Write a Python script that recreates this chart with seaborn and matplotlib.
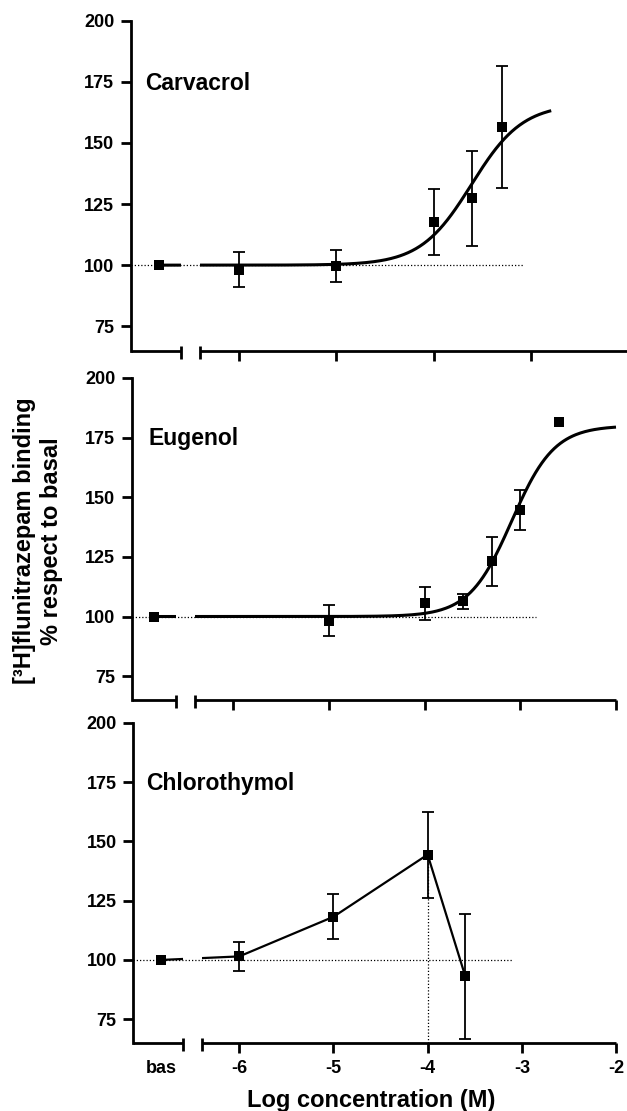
import numpy as np
import matplotlib
matplotlib.use("Agg")
import matplotlib.pyplot as plt
from matplotlib.patches import Rectangle
import seaborn as sns

# values (% of basal binding, mean +/- error)
basal = 100.0

carv_logc = [-6, -5, -4, -3.6, -3.3]
carv_mean = [98.2, 99.6, 117.6, 127.3, 156.5]
carv_err = [7.3, 6.4, 13.4, 19.3, 25.0]
# fitted sigmoid: bottom, top, logEC50, hill slope
carv_fit = [100, 166, -3.61, 1.65]
carv_fit_end = -2.79

eug_logc = [-5, -4, -3.6, -3.3, -3.0, -2.6]
eug_mean = [98.2, 105.5, 106.3, 123.2, 144.6, 181.5]
eug_err = [6.5, 7.0, 3.0, 10.3, 8.5, 0]
eug_fit = [100, 180, -3.09, 1.95]
eug_fit_end = -2.0

chl_logc = [-6, -5, -4, -3.6]
chl_mean = [101.5, 118.2, 144.4, 93.1]
chl_err = [6.2, 9.4, 18.1, 26.4]

names = ["Carvacrol", "Eugenol", "Chlorothymol"]
xticks = [-6, -5, -4, -3, -2]
xtick_labels = ["-6", "-5", "-4", "-3", "-2"]
yticks = [75, 100, 125, 150, 175, 200]

# layout (pixels of the 627x1111 figure)
W, H = 627, 1111
panels = [
    dict(l=130.8, r=628, t=20.7, b=350.7, x0=-7.115, dot_end=-3.07, lab_x=-6.97),
    dict(l=132, r=616, t=378, b=700, x0=-7.057, dot_end=-2.84, lab_x=-6.88),
    dict(l=133.3, r=616, t=722.7, b=1043, x0=-7.125, dot_end=-3.09, lab_x=-6.99),
]
BAS_X = -6.83
BRK = (-6.6, -6.4)
YMIN, YMAX = 65, 200

sns.set_style("ticks")
plt.rcParams["font.family"] = ["Liberation Sans", "DejaVu Sans"]
plt.rcParams["font.weight"] = "bold"
for key in ["text.color", "axes.labelcolor", "xtick.color", "ytick.color", "axes.edgecolor"]:
    plt.rcParams[key] = "black"

fig = plt.figure(figsize=(W / 100, H / 100), dpi=100)


def sigmoid(x, p):
    bottom, top, ec50, hill = p
    return bottom + (top - bottom) / (1 + 10 ** ((ec50 - x) * hill))


def split_line(ax, x, y, lw, x0):
    # same line drawn twice, clipped on each side of the axis break
    for lo, hi in [(x0 - 1, BRK[0]), (BRK[1], 0)]:
        sns.lineplot(x=x, y=y, ax=ax, color="black", lw=lw, sort=False,
                     estimator=None, legend=False)
        line = ax.lines[-1]
        line.set_clip_path(Rectangle((lo, 0), hi - lo, 400, transform=ax.transData))
        line.set_solid_capstyle("butt")


def points(ax, logc, mean, err):
    sns.scatterplot(x=[BAS_X] + logc, y=[basal] + mean, ax=ax, marker="s", s=42,
                    color="black", edgecolor="black", linewidth=0, zorder=5, legend=False)
    logc, mean, err = np.array(logc), np.array(mean), np.array(err)
    m = err > 0
    ax.errorbar(logc[m], mean[m], yerr=err[m], fmt="none", ecolor="black",
                elinewidth=1.3, capsize=4.5, capthick=1.3, zorder=4)


axes = []
for i, p in enumerate(panels):
    ax = fig.add_axes([p["l"] / W, 1 - p["b"] / H, (p["r"] - p["l"]) / W, (p["b"] - p["t"]) / H])
    axes.append(ax)
    ax.set_xlim(p["x0"], -2)
    ax.set_ylim(YMIN, YMAX)
    ax.patch.set_alpha(0)
    sns.despine(ax=ax)
    ax.spines["left"].set_linewidth(2)
    ax.spines["bottom"].set_visible(False)

    # broken x axis
    h = p["b"] - p["t"]
    tr = ax.get_xaxis_transform()
    ax.plot([p["x0"], BRK[0]], [0, 0], transform=tr, color="black", lw=2,
            clip_on=False, solid_capstyle="butt")
    ax.plot([BRK[1], -2], [0, 0], transform=tr, color="black", lw=2,
            clip_on=False, solid_capstyle="butt")
    for xb in BRK:
        ax.plot([xb, xb], [5 / h, -8 / h], transform=tr, color="black", lw=2,
                clip_on=False, solid_capstyle="butt")

    ax.set_yticks(yticks)
    ax.set_xticks(xticks)
    ax.set_xticks([BAS_X], minor=True)
    ax.tick_params(axis="both", which="major", length=7, width=2, pad=5,
                   labelsize=13, color="black")
    ax.tick_params(axis="x", which="minor", length=0, pad=12, labelsize=13)
    if i == 2:
        ax.set_xticklabels(xtick_labels)
        ax.set_xticklabels(["bas"], minor=True)
    else:
        ax.tick_params(axis="x", which="both", labelbottom=False)

    # basal reference line
    ax.plot([p["x0"], p["dot_end"]], [basal, basal], color="black", lw=0.9,
            ls=(0, (1, 1.6)), zorder=1)
    ax.text(p["lab_x"], 171.8, names[i], fontsize=16.5, ha="left", va="baseline")

# Carvacrol
ax = axes[0]
xs = np.linspace(BAS_X, carv_fit_end, 300)
split_line(ax, xs, sigmoid(xs, carv_fit), 2.2, panels[0]["x0"])
points(ax, carv_logc, carv_mean, carv_err)

# Eugenol
ax = axes[1]
xs = np.linspace(BAS_X, eug_fit_end, 300)
split_line(ax, xs, sigmoid(xs, eug_fit), 2.2, panels[1]["x0"])
points(ax, eug_logc, eug_mean, eug_err)

# Chlorothymol (points joined, no fit)
ax = axes[2]
split_line(ax, np.array([BAS_X] + chl_logc), np.array([basal] + chl_mean), 1.6, panels[2]["x0"])
points(ax, chl_logc, chl_mean, chl_err)
ax.plot([chl_logc[2], chl_logc[2]], [YMIN, chl_mean[2]], color="black", lw=0.9,
        ls=(0, (1, 1.6)), zorder=1)

fig.text(38 / W, 1 - 541 / H, "[³H]flunitrazepam binding\n% respect to basal",
         rotation=90, ha="center", va="center", fontsize=17, multialignment="center",
         linespacing=1.2)
fig.text(370.8 / W, 1 - 1107.3 / H, "Log concentration (M)", ha="center",
         va="baseline", fontsize=17)

fig.savefig("out.png", dpi=100)
